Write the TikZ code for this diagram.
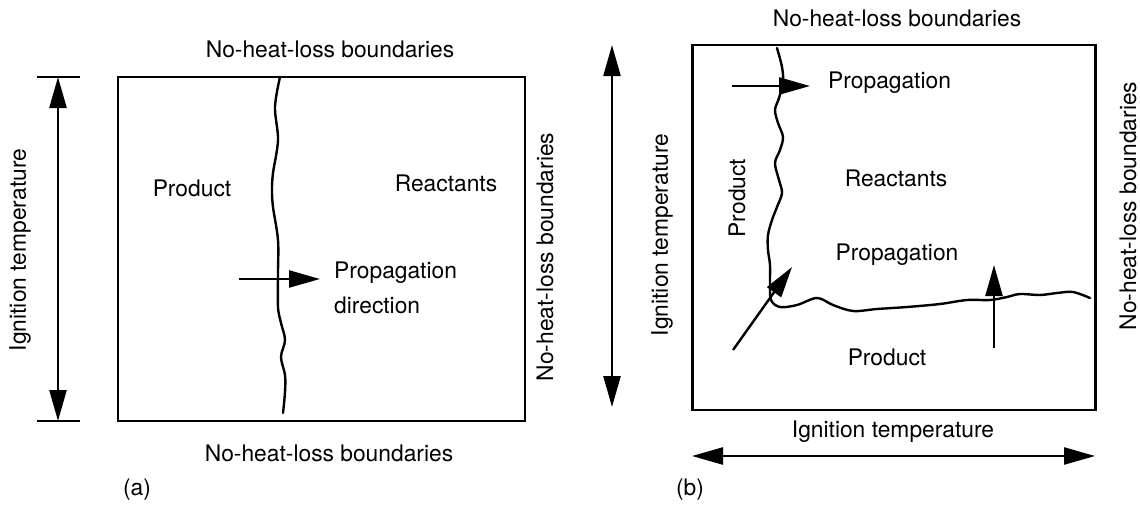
\documentclass[tikz,border=0pt]{standalone}
\usepackage{fontspec}
\setmainfont{TeX Gyre Heros}
\usetikzlibrary{arrows.meta}

\begin{document}
\begin{tikzpicture}[
  x=1pt, y=-1pt,
  font=\fontsize{22.8}{35}\selectfont,
  frame/.style={draw, line width=2.6pt, inner sep=0pt},
  front/.style={line width=2.4pt, line join=round, line cap=round},
  arr/.style={line width=2.4pt, -{Triangle[length=31pt,width=17pt]}},
  dbl/.style={line width=2.4pt, {Triangle[length=31pt,width=17pt]}-{Triangle[length=31pt,width=17pt]}},
  lbl/.style={inner sep=0pt},
  vlbl/.style={inner sep=0pt, rotate=90},
]
\useasboundingbox (0,0) rectangle (1140,509);

% ================= (a) : planar front =================
\node[frame, minimum width=407pt, minimum height=344pt] (boxa) at (321.5,249) {};

\coordinate (dimatop) at (58,77);
\coordinate (dimabot) at (58,421);
\draw[line width=2.4pt] (37,77) -- (80,77);
\draw[line width=2.4pt] (37,421) -- (80,421);
\draw[dbl] (dimatop) -- (dimabot);
\node[vlbl] (igna) at (20,250) {Ignition temperature};

\draw[front] plot[smooth, tension=0.55] coordinates {
  (280,77) (275,107) (278,140) (273,173) (272,190) (273,207) (278,240)
  (278,273) (278,307) (281,323) (285,340) (281,357) (285,375) (285,392) (283,413)};

\coordinate (pa0) at (239,279);
\coordinate (pa1) at (320,279);
\draw[arr] (pa0) -- (pa1);

\node[lbl] (proda) at (192,188) {Product};
\node[lbl] (reaca) at (446,183) {Reactants};
\node[lbl, anchor=west, align=left] (propa) at (334,288) {Propagation\\direction};
\node[lbl] (topa) at (330,49) {No-heat-loss boundaries};
\node[lbl] (bota) at (329,453) {No-heat-loss boundaries};
\node[vlbl] (rgta) at (545,257) {No-heat-loss boundaries};
\node[lbl] (capa) at (137,490) {(a)};

% ================= (b) : corner front =================
\node[frame, minimum width=403pt, minimum height=365pt] (boxb) at (894,227.5) {};

\coordinate (dimbtop) at (612,45);
\coordinate (dimbbot) at (612,407);
\draw[dbl] (dimbtop) -- (dimbbot);
\node[vlbl] (ignb) at (662,235) {Ignition temperature};

\coordinate (dimbl) at (692,456);
\coordinate (dimbr) at (1095,456);
\draw[dbl] (dimbl) -- (dimbr);
\node[lbl] (ignbb) at (893,432) {Ignition temperature};

\draw[front] plot[smooth, tension=0.55] coordinates {
  (777,48) (782,67) (783,82) (779,98) (775,110) (778,123) (783,137) (780,150)
  (775,163) (779,180) (782,193) (777,207) (772,220) (768,235) (768,250)
  (770,265) (770,283) (771,300) (780,307) (797,305) (817,298) (833,305)
  (853,311) (877,309) (907,307) (940,304) (967,300) (990,300) (1007,297)
  (1020,294) (1040,295) (1057,293) (1073,292) (1090,298)};

\coordinate (pb0) at (732,86);
\coordinate (pb1) at (810,86);
\draw[arr] (pb0) -- (pb1);
\coordinate (qb0) at (733,350);
\coordinate (qb1) at (792,267);
\draw[arr] (qb0) -- (qb1);
\coordinate (rb0) at (994,348);
\coordinate (rb1) at (994,265);
\draw[arr] (rb0) -- (rb1);

\node[lbl, anchor=west] (propb1) at (828,83) {Propagation};
\node[lbl] (reacb) at (896,178) {Reactants};
\node[lbl] (propb2) at (897,255) {Propagation};
\node[lbl] (prodb1) at (887,357) {Product};
\node[vlbl] (prodb2) at (737,198) {Product};
\node[lbl] (topb) at (897,18) {No-heat-loss boundaries};
\node[vlbl] (rgtb) at (1128,206) {No-heat-loss boundaries};
\node[lbl] (capb) at (690,490) {(b)};
\end{tikzpicture}
\end{document}
